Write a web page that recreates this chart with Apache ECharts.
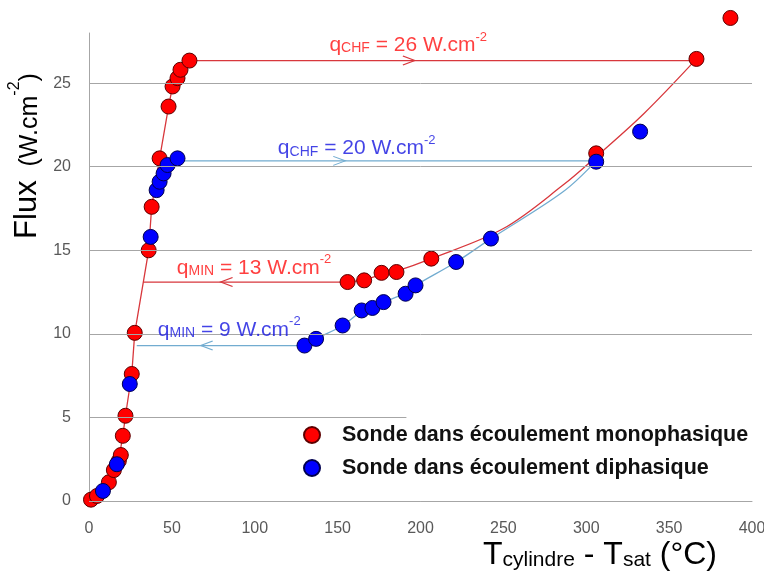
<!DOCTYPE html>
<html><head><meta charset="utf-8">
<script src="https://cdn.jsdelivr.net/npm/echarts@6/dist/echarts.min.js"></script>
<style>html,body{margin:0;padding:0;background:#fff}#c{width:764px;height:574px}</style>
</head><body><div id="c"></div>
<script>
// ---------- data ----------
const xTicks = [0, 50, 100, 150, 200, 250, 300, 350, 400];
const yTicks = [0, 5, 10, 15, 20, 25];

// Sonde dans écoulement monophasique (red)
const monoT = [1.2, 4.8, 12, 15, 18, 19.2, 20.4, 22, 25.8, 27.6, 36, 37.8, 42.6, 48, 50.4, 53.4, 55.2, 60.6,
               156, 166, 176.5, 185.5, 206.5, 306, 366.5, 387];
const monoQ = [0.08, 0.3, 1.12, 1.85, 2.4, 2.75, 3.9, 5.1, 7.6, 10.06, 15.0, 17.6, 20.5, 23.6, 24.8, 25.3, 25.8, 26.35,
               13.1, 13.2, 13.65, 13.7, 14.5, 20.8, 26.45, 28.9];

// Sonde dans écoulement diphasique (blue)
const diphT = [8.4, 16.8, 24.6, 37.2, 40.8, 42.6, 45, 47.4, 53.4,
               130, 137, 153, 164.5, 171, 177.7, 191, 197, 221.5, 242.5, 306, 332.5];
const diphQ = [0.6, 2.2, 7.0, 15.8, 18.6, 19.1, 19.6, 20.1, 20.5,
               9.3, 9.7, 10.5, 11.4, 11.55, 11.9, 12.4, 12.9, 14.3, 15.7, 20.3, 22.1];

// trend lines drawn in the reference
const redBoilT = [0, 5.4, 12, 15, 18, 20.4, 22, 25.8, 27.6, 36, 37.8, 42.6, 48, 50.4, 53.4, 55.2, 60.6];
const redBoilQ = [0, 0.36, 1.14, 1.86, 2.5, 3.9, 5.1, 7.6, 10.06, 15.0, 17.6, 20.5, 23.6, 24.8, 25.3, 25.8, 26.35];
const redFilmT = [366.5, 335, 306, 286, 250, 206.5, 185.5, 176.5, 166, 156];
const redFilmQ = [26.45, 23.2, 20.6, 18.9, 16.3, 14.5, 13.75, 13.55, 13.25, 13.1];
const blueFilmT = [306, 286, 242.5, 221.5, 197, 191, 177.7, 171, 164.5, 153, 137, 130];
const blueFilmQ = [20.35, 18.5, 15.7, 14.3, 12.9, 12.45, 11.9, 11.6, 11.35, 10.5, 9.7, 9.3];

// q_CHF / q_MIN arrows: [start T, arrow T, end T], level
const redChfT = [60.6, 193, 366.5];   const redChfQ = 26.35;
const blueChfT = [53.4, 151, 306];    const blueChfQ = 20.35;
const redMinT = [156, 83, 32.8];      const redMinQ = 13.1;
const blueMinT = [130, 71, 28.8];     const blueMinQ = 9.3;

// annotation labels
const annotT = [192.6, 161.5, 99.6, 84.6];
const annotQ = [27.4, 21.2, 14.07, 10.36];
const annotKind = ['CHF', 'CHF', 'MIN', 'MIN'];
const annotVal = ['26', '20', '13', '9'];
const annotColor = ['red', 'blue', 'red', 'blue'];

// ---------- styles ----------
const RED_TXT = '#ff1010', BLUE_TXT = '#1414e0';
const RED_LINE = '#d8373c', BLUE_LINE = '#72acd0';
const FONT = '"Liberation Sans", Arial, sans-serif';
const LEGEND_BOX_T = 191.5; // where the legend box hides the 5-gridline

function rich(f, color, bold) {
  const w = bold ? 'bold' : 'normal';
  return {
    m: {fontSize: f, lineHeight: Math.round(1.2 * f), verticalAlign: 'bottom', color, fontFamily: FONT, fontWeight: w},
    sub: {fontSize: Math.round(0.65 * f), lineHeight: Math.round(0.56 * f), verticalAlign: 'bottom', color, fontFamily: FONT, fontWeight: w},
    sup: {fontSize: Math.round(0.6 * f), lineHeight: Math.round(0.8 * f), verticalAlign: 'top', color, fontFamily: FONT, fontWeight: w}
  };
}

const zip = (a, b) => a.map((v, i) => [v, b[i]]);
const chev = {
  right: 'path://M0,0 L10,5 L0,10',
  left: 'path://M10,0 L0,5 L10,10'
};
function arrowSeries(ts, q, color, dir) {
  return {
    type: 'line', z: 2, silent: true, animation: false,
    data: ts.map((t, i) => ({
      value: [t, q],
      symbol: i === 1 ? chev[dir] : 'none',
      symbolSize: [12, 9]
    })),
    showSymbol: true,
    lineStyle: {color, width: 1.3},
    itemStyle: {color: 'rgba(0,0,0,0)', borderColor: color, borderWidth: 1.2}
  };
}

const gridLines = yTicks.map(v => v === 5
  ? [{coord: [xTicks[0], v]}, {coord: [LEGEND_BOX_T, v]}]
  : [{coord: [xTicks[0], v]}, {coord: [xTicks[xTicks.length - 1], v]}]);

const chart = echarts.init(document.getElementById('c'), null, {renderer: 'canvas'});
const option = {
  animation: false,
  backgroundColor: '#fff',
  grid: {left: 89, right: 12, top: 33, bottom: 73, containLabel: false, outerBoundsMode: 'none'},
  xAxis: {
    type: 'value', min: xTicks[0], max: xTicks[xTicks.length - 1], interval: 50,
    axisLine: {show: true, lineStyle: {color: '#a6a6a6', width: 1}},
    axisTick: {show: false},
    splitLine: {show: false},
    axisLabel: {color: '#595959', fontSize: 16, fontFamily: FONT, margin: 20}
  },
  yAxis: {
    type: 'value', min: 0, max: 28, interval: 5,
    axisLine: {show: true, lineStyle: {color: '#a6a6a6', width: 1}},
    axisTick: {show: false},
    splitLine: {show: false},
    axisLabel: {color: '#595959', fontSize: 16, fontFamily: FONT, margin: 18,
      formatter: v => (yTicks.indexOf(v) >= 0 ? String(v) : '')}
  },
  legend: {
    orient: 'vertical', left: 298, top: 419,
    itemWidth: 50, itemHeight: 16, itemGap: 11,
    icon: 'circle',
    data: ['Sonde dans écoulement monophasique', 'Sonde dans écoulement diphasique'],
    textStyle: {color: '#111', fontSize: 21.5, fontWeight: 'bold', fontFamily: FONT, lineHeight: 21},
    z: 10
  },
  graphic: [
    {
      type: 'text', x: 25, y: 156, rotation: Math.PI / 2, z: 10,
      style: {
        text: '{f|Flux}{p|  (W.cm}{s|-2}{p|)}',
        align: 'center', verticalAlign: 'middle',
        rich: {
          f: {fontSize: 31, lineHeight: 36, verticalAlign: 'bottom', fill: '#000', fontFamily: FONT},
          p: {fontSize: 25, lineHeight: 32, verticalAlign: 'bottom', fill: '#000', fontFamily: FONT},
          s: {fontSize: 16, lineHeight: 31, verticalAlign: 'top', fill: '#000', fontFamily: FONT}
        }
      }
    },
    {
      type: 'text', x: 600, y: 552, z: 10,
      style: {
        text: '{m|T}{sub|cylindre}{m| - T}{sub|sat}{m| (°C)}',
        align: 'center', verticalAlign: 'middle',
        rich: (() => { const r = rich(32, '#000', false);
          Object.values(r).forEach(o => { o.fill = '#000'; }); return r; })()
      }
    }
  ],
  series: [
    { // horizontal gridlines
      type: 'line', data: [], z: 1, silent: true,
      markLine: {
        silent: true, symbol: ['none', 'none'], animation: false,
        label: {show: false},
        lineStyle: {color: '#a6a6a6', width: 1, type: 'solid'},
        data: gridLines
      }
    },
    {type: 'line', z: 2, silent: true, showSymbol: false, data: zip(redBoilT, redBoilQ),
     lineStyle: {color: RED_LINE, width: 1.3}},
    {type: 'line', z: 2, silent: true, showSymbol: false, smooth: 0.35, data: zip(redFilmT, redFilmQ),
     lineStyle: {color: RED_LINE, width: 1.3}},
    {type: 'line', z: 2, silent: true, showSymbol: false, smooth: 0.35, data: zip(blueFilmT, blueFilmQ),
     lineStyle: {color: BLUE_LINE, width: 1.3}},
    arrowSeries(redChfT, redChfQ, RED_LINE, 'right'),
    arrowSeries(blueChfT, blueChfQ, BLUE_LINE, 'right'),
    arrowSeries(redMinT, redMinQ, RED_LINE, 'left'),
    arrowSeries(blueMinT, blueMinQ, BLUE_LINE, 'left'),
    {
      name: 'Sonde dans écoulement monophasique', type: 'scatter', z: 4, clip: false,
      symbol: 'circle', symbolSize: 15, data: zip(monoT, monoQ),
      itemStyle: {color: '#ff0000', borderColor: '#5c0000', borderWidth: 1, opacity: 1}
    },
    {
      name: 'Sonde dans écoulement diphasique', type: 'scatter', z: 4, clip: false,
      symbol: 'circle', symbolSize: 15, data: zip(diphT, diphQ),
      itemStyle: {color: '#0000ff', borderColor: '#000050', borderWidth: 1, opacity: 1}
    },
    { // q labels
      type: 'scatter', z: 6, silent: true, symbolSize: 0, clip: false,
      data: annotT.map((t, i) => ({
        value: [t, annotQ[i]],
        label: {
          show: true, position: 'inside',
          formatter: '{m|q}{sub|' + annotKind[i] + '}{m| = ' + annotVal[i] + ' W.cm}{sup|-2}',
          rich: rich(21, annotColor[i] === 'red' ? RED_TXT : BLUE_TXT, false)
        }
      }))
    }
  ]
};
chart.setOption(option);
</script>
</body></html>
